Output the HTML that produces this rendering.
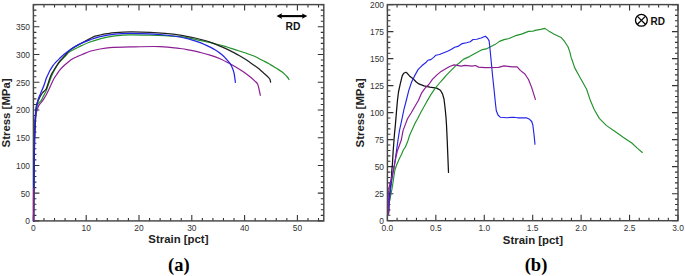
<!DOCTYPE html>
<html><head><meta charset="utf-8"><style>
html,body{margin:0;padding:0;background:#fff;width:685px;height:276px;overflow:hidden}
svg{display:block}
.tl{font-family:"Liberation Sans",sans-serif;font-size:8.4px;fill:#333}
.bl{font-family:"Liberation Sans",sans-serif;font-size:11.4px;font-weight:bold;fill:#222}
.rd{font-family:"Liberation Sans",sans-serif;font-size:9.8px;font-weight:bold;fill:#111}
.cap{font-family:"Liberation Serif",serif;font-size:18.5px;font-weight:bold;fill:#000}
</style></head><body>
<svg width="685" height="276" viewBox="0 0 685 276">
<path d="M33.4 220.9v-6M33.4 4.6v6M43.96 220.9v-3M43.96 4.6v3M54.52 220.9v-3M54.52 4.6v3M65.08 220.9v-3M65.08 4.6v3M75.64 220.9v-3M75.64 4.6v3M86.2 220.9v-6M86.2 4.6v6M96.76 220.9v-3M96.76 4.6v3M107.32 220.9v-3M107.32 4.6v3M117.88 220.9v-3M117.88 4.6v3M128.44 220.9v-3M128.44 4.6v3M139 220.9v-6M139 4.6v6M149.56 220.9v-3M149.56 4.6v3M160.12 220.9v-3M160.12 4.6v3M170.68 220.9v-3M170.68 4.6v3M181.24 220.9v-3M181.24 4.6v3M191.8 220.9v-6M191.8 4.6v6M202.36 220.9v-3M202.36 4.6v3M212.92 220.9v-3M212.92 4.6v3M223.48 220.9v-3M223.48 4.6v3M234.04 220.9v-3M234.04 4.6v3M244.6 220.9v-6M244.6 4.6v6M255.16 220.9v-3M255.16 4.6v3M265.72 220.9v-3M265.72 4.6v3M276.28 220.9v-3M276.28 4.6v3M286.84 220.9v-3M286.84 4.6v3M297.4 220.9v-6M297.4 4.6v6M307.96 220.9v-3M307.96 4.6v3M318.52 220.9v-3M318.52 4.6v3M33.4 220.9h6M323.8 220.9h-6M33.4 215.35h3M323.8 215.35h-3M33.4 209.81h3M323.8 209.81h-3M33.4 204.26h3M323.8 204.26h-3M33.4 198.72h3M323.8 198.72h-3M33.4 193.17h6M323.8 193.17h-6M33.4 187.62h3M323.8 187.62h-3M33.4 182.08h3M323.8 182.08h-3M33.4 176.53h3M323.8 176.53h-3M33.4 170.98h3M323.8 170.98h-3M33.4 165.44h6M323.8 165.44h-6M33.4 159.89h3M323.8 159.89h-3M33.4 154.35h3M323.8 154.35h-3M33.4 148.8h3M323.8 148.8h-3M33.4 143.25h3M323.8 143.25h-3M33.4 137.71h6M323.8 137.71h-6M33.4 132.16h3M323.8 132.16h-3M33.4 126.62h3M323.8 126.62h-3M33.4 121.07h3M323.8 121.07h-3M33.4 115.52h3M323.8 115.52h-3M33.4 109.98h6M323.8 109.98h-6M33.4 104.43h3M323.8 104.43h-3M33.4 98.88h3M323.8 98.88h-3M33.4 93.34h3M323.8 93.34h-3M33.4 87.79h3M323.8 87.79h-3M33.4 82.25h6M323.8 82.25h-6M33.4 76.7h3M323.8 76.7h-3M33.4 71.15h3M323.8 71.15h-3M33.4 65.61h3M323.8 65.61h-3M33.4 60.06h3M323.8 60.06h-3M33.4 54.52h6M323.8 54.52h-6M33.4 48.97h3M323.8 48.97h-3M33.4 43.42h3M323.8 43.42h-3M33.4 37.88h3M323.8 37.88h-3M33.4 32.33h3M323.8 32.33h-3M33.4 26.78h6M323.8 26.78h-6M33.4 21.24h3M323.8 21.24h-3M33.4 15.69h3M323.8 15.69h-3M33.4 10.15h3M323.8 10.15h-3M33.4 4.6h3M323.8 4.6h-3" stroke="#333" stroke-width="1.1" fill="none"/>
<rect x="33.4" y="4.6" width="290.4" height="216.3" fill="none" stroke="#474747" stroke-width="1.45"/>
<text transform="translate(33.4,230.5) scale(1,1.16)" class="tl" text-anchor="middle">0</text>
<text transform="translate(86.2,230.5) scale(1,1.16)" class="tl" text-anchor="middle">10</text>
<text transform="translate(139,230.5) scale(1,1.16)" class="tl" text-anchor="middle">20</text>
<text transform="translate(191.8,230.5) scale(1,1.16)" class="tl" text-anchor="middle">30</text>
<text transform="translate(244.6,230.5) scale(1,1.16)" class="tl" text-anchor="middle">40</text>
<text transform="translate(297.4,230.5) scale(1,1.16)" class="tl" text-anchor="middle">50</text>
<text transform="translate(30,224.4) scale(1,1.16)" class="tl" text-anchor="end">0</text>
<text transform="translate(30,196.67) scale(1,1.16)" class="tl" text-anchor="end">50</text>
<text transform="translate(30,168.94) scale(1,1.16)" class="tl" text-anchor="end">100</text>
<text transform="translate(30,141.21) scale(1,1.16)" class="tl" text-anchor="end">150</text>
<text transform="translate(30,113.48) scale(1,1.16)" class="tl" text-anchor="end">200</text>
<text transform="translate(30,85.75) scale(1,1.16)" class="tl" text-anchor="end">250</text>
<text transform="translate(30,58.02) scale(1,1.16)" class="tl" text-anchor="end">300</text>
<text transform="translate(30,30.28) scale(1,1.16)" class="tl" text-anchor="end">350</text>
<path d="M387.4 220.7v-6M387.4 4.6v6M397.09 220.7v-3M397.09 4.6v3M406.77 220.7v-3M406.77 4.6v3M416.46 220.7v-3M416.46 4.6v3M426.15 220.7v-3M426.15 4.6v3M435.83 220.7v-6M435.83 4.6v6M445.52 220.7v-3M445.52 4.6v3M455.21 220.7v-3M455.21 4.6v3M464.89 220.7v-3M464.89 4.6v3M474.58 220.7v-3M474.58 4.6v3M484.27 220.7v-6M484.27 4.6v6M493.95 220.7v-3M493.95 4.6v3M503.64 220.7v-3M503.64 4.6v3M513.33 220.7v-3M513.33 4.6v3M523.01 220.7v-3M523.01 4.6v3M532.7 220.7v-6M532.7 4.6v6M542.39 220.7v-3M542.39 4.6v3M552.07 220.7v-3M552.07 4.6v3M561.76 220.7v-3M561.76 4.6v3M571.45 220.7v-3M571.45 4.6v3M581.13 220.7v-6M581.13 4.6v6M590.82 220.7v-3M590.82 4.6v3M600.51 220.7v-3M600.51 4.6v3M610.19 220.7v-3M610.19 4.6v3M619.88 220.7v-3M619.88 4.6v3M629.57 220.7v-6M629.57 4.6v6M639.25 220.7v-3M639.25 4.6v3M648.94 220.7v-3M648.94 4.6v3M658.63 220.7v-3M658.63 4.6v3M668.31 220.7v-3M668.31 4.6v3M678 220.7v-6M678 4.6v6M387.4 220.7h6M678 220.7h-6M387.4 215.3h3M678 215.3h-3M387.4 209.89h3M678 209.89h-3M387.4 204.49h3M678 204.49h-3M387.4 199.09h3M678 199.09h-3M387.4 193.69h6M678 193.69h-6M387.4 188.28h3M678 188.28h-3M387.4 182.88h3M678 182.88h-3M387.4 177.48h3M678 177.48h-3M387.4 172.08h3M678 172.08h-3M387.4 166.67h6M678 166.67h-6M387.4 161.27h3M678 161.27h-3M387.4 155.87h3M678 155.87h-3M387.4 150.47h3M678 150.47h-3M387.4 145.06h3M678 145.06h-3M387.4 139.66h6M678 139.66h-6M387.4 134.26h3M678 134.26h-3M387.4 128.86h3M678 128.86h-3M387.4 123.45h3M678 123.45h-3M387.4 118.05h3M678 118.05h-3M387.4 112.65h6M678 112.65h-6M387.4 107.25h3M678 107.25h-3M387.4 101.84h3M678 101.84h-3M387.4 96.44h3M678 96.44h-3M387.4 91.04h3M678 91.04h-3M387.4 85.64h6M678 85.64h-6M387.4 80.23h3M678 80.23h-3M387.4 74.83h3M678 74.83h-3M387.4 69.43h3M678 69.43h-3M387.4 64.03h3M678 64.03h-3M387.4 58.62h6M678 58.62h-6M387.4 53.22h3M678 53.22h-3M387.4 47.82h3M678 47.82h-3M387.4 42.42h3M678 42.42h-3M387.4 37.01h3M678 37.01h-3M387.4 31.61h6M678 31.61h-6M387.4 26.21h3M678 26.21h-3M387.4 20.81h3M678 20.81h-3M387.4 15.41h3M678 15.41h-3M387.4 10h3M678 10h-3M387.4 4.6h6M678 4.6h-6" stroke="#333" stroke-width="1.1" fill="none"/>
<rect x="387.4" y="4.6" width="290.6" height="216.1" fill="none" stroke="#474747" stroke-width="1.45"/>
<text transform="translate(387.4,230.5) scale(1,1.16)" class="tl" text-anchor="middle">0.0</text>
<text transform="translate(435.83,230.5) scale(1,1.16)" class="tl" text-anchor="middle">0.5</text>
<text transform="translate(484.27,230.5) scale(1,1.16)" class="tl" text-anchor="middle">1.0</text>
<text transform="translate(532.7,230.5) scale(1,1.16)" class="tl" text-anchor="middle">1.5</text>
<text transform="translate(581.13,230.5) scale(1,1.16)" class="tl" text-anchor="middle">2.0</text>
<text transform="translate(629.57,230.5) scale(1,1.16)" class="tl" text-anchor="middle">2.5</text>
<text transform="translate(678,230.5) scale(1,1.16)" class="tl" text-anchor="middle">3.0</text>
<text transform="translate(384,224.2) scale(1,1.16)" class="tl" text-anchor="end">0</text>
<text transform="translate(384,197.19) scale(1,1.16)" class="tl" text-anchor="end">25</text>
<text transform="translate(384,170.17) scale(1,1.16)" class="tl" text-anchor="end">50</text>
<text transform="translate(384,143.16) scale(1,1.16)" class="tl" text-anchor="end">75</text>
<text transform="translate(384,116.15) scale(1,1.16)" class="tl" text-anchor="end">100</text>
<text transform="translate(384,89.14) scale(1,1.16)" class="tl" text-anchor="end">125</text>
<text transform="translate(384,62.12) scale(1,1.16)" class="tl" text-anchor="end">150</text>
<text transform="translate(384,35.11) scale(1,1.16)" class="tl" text-anchor="end">175</text>
<text transform="translate(384,8.1) scale(1,1.16)" class="tl" text-anchor="end">200</text>
<path d="M33.6 221C33.72 208.33 34.03 161 34.3 145C34.57 129 34.88 130.17 35.2 125C35.52 119.83 35.87 116.57 36.2 114C36.53 111.43 36.82 110.92 37.2 109.6C37.58 108.28 37.92 107.2 38.5 106.1C39.08 105 40.17 103.7 40.7 103C41.23 102.3 41.18 102.58 41.7 101.9C42.22 101.22 43.02 100.13 43.8 98.9C44.58 97.67 45.53 96.1 46.4 94.5C47.27 92.9 48.12 91.18 49 89.3C49.88 87.42 50.82 85.08 51.7 83.2C52.58 81.32 53.52 79.37 54.3 78C55.08 76.63 55.53 76.27 56.4 75C57.27 73.73 58.22 71.98 59.5 70.4C60.78 68.82 62.58 66.95 64.1 65.5C65.62 64.05 67.1 62.85 68.6 61.7C70.1 60.55 71.58 59.48 73.1 58.6C74.62 57.72 76.18 57.08 77.7 56.4C79.22 55.72 80.15 55.35 82.2 54.5C84.25 53.65 87.03 52.22 90 51.3C92.97 50.38 96.67 49.62 100 49C103.33 48.38 105 47.95 110 47.6C115 47.25 121.67 47.07 130 46.9C138.33 46.73 151.67 46.33 160 46.6C168.33 46.87 175 47.9 180 48.5C185 49.1 186.67 49.55 190 50.2C193.33 50.85 196.67 51.58 200 52.4C203.33 53.22 206.67 54.03 210 55.1C213.33 56.17 216.67 57.35 220 58.8C223.33 60.25 227.13 62.28 230 63.8C232.87 65.32 234.98 66.58 237.2 67.9C239.42 69.22 241.27 70.3 243.3 71.7C245.33 73.1 247.5 74.77 249.4 76.3C251.3 77.83 253.32 79.58 254.7 80.9C256.08 82.22 256.95 82.68 257.7 84.2C258.45 85.72 258.77 88.15 259.2 90C259.63 91.85 260.12 94.42 260.3 95.3" fill="none" stroke="#8c1e94" stroke-width="1.2" stroke-linejoin="round" stroke-linecap="round"/>
<path d="M33.6 221C33.75 207.5 34.18 157.17 34.5 140C34.82 122.83 35.17 123.17 35.5 118C35.83 112.83 36.08 111.33 36.5 109C36.92 106.67 37.42 105.2 38 104C38.58 102.8 39.47 102.37 40 101.8C40.53 101.23 40.78 101.23 41.2 100.6C41.62 99.97 41.92 99.15 42.5 98C43.08 96.85 44.05 95 44.7 93.7C45.35 92.4 45.75 91.8 46.4 90.2C47.05 88.6 47.87 86.13 48.6 84.1C49.33 82.07 50.07 79.85 50.8 78C51.53 76.15 52 75 53 73C54 71 55.63 67.92 56.8 66C57.97 64.08 58.63 63.08 60 61.5C61.37 59.92 63.33 58.15 65 56.5C66.67 54.85 67.5 53.28 70 51.6C72.5 49.92 76.67 48 80 46.4C83.33 44.8 86.67 43.27 90 42C93.33 40.73 97.17 39.6 100 38.8C102.83 38 104.5 37.7 107 37.2C109.5 36.7 111.17 36.2 115 35.8C118.83 35.4 124.17 34.92 130 34.8C135.83 34.68 144.17 34.95 150 35.1C155.83 35.25 160 35.43 165 35.7C170 35.97 175 36.1 180 36.7C185 37.3 190.83 38.5 195 39.3C199.17 40.1 201.67 40.75 205 41.5C208.33 42.25 211.67 42.98 215 43.8C218.33 44.62 221.67 45.43 225 46.4C228.33 47.37 231.67 48.53 235 49.6C238.33 50.67 241.67 51.65 245 52.8C248.33 53.95 252.28 55.33 255 56.5C257.72 57.67 259.72 58.98 261.3 59.8C262.88 60.62 263.28 60.77 264.5 61.4C265.72 62.03 267.17 62.78 268.6 63.6C270.03 64.42 271.6 65.4 273.1 66.3C274.6 67.2 276.2 68.12 277.6 69C279 69.88 280.27 70.67 281.5 71.6C282.73 72.53 284.03 73.7 285 74.6C285.97 75.5 286.63 76.18 287.3 77C287.97 77.82 288.72 79.08 289 79.5" fill="none" stroke="#22922a" stroke-width="1.2" stroke-linejoin="round" stroke-linecap="round"/>
<path d="M33.6 221C33.7 210.83 33.92 176.83 34.2 160C34.48 143.17 34.97 128.77 35.3 120C35.63 111.23 35.88 110.23 36.2 107.4C36.52 104.57 36.73 104.42 37.2 103C37.67 101.58 38.4 100.17 39 98.9C39.6 97.63 40.22 96.42 40.8 95.4C41.38 94.38 41.85 93.6 42.5 92.8C43.15 92 44.05 91.33 44.7 90.6C45.35 89.87 45.82 89.63 46.4 88.4C46.98 87.17 47.62 84.93 48.2 83.2C48.78 81.47 49.33 79.53 49.9 78C50.47 76.47 50.9 75.37 51.6 74C52.3 72.63 53.27 71.17 54.1 69.8C54.93 68.43 55.77 67.07 56.6 65.8C57.43 64.53 58.25 63.3 59.1 62.2C59.95 61.1 60.72 60.33 61.7 59.2C62.68 58.07 63.62 56.92 65 55.4C66.38 53.88 68.33 51.55 70 50.1C71.67 48.65 73.33 47.72 75 46.7C76.67 45.68 78.33 44.9 80 44C81.67 43.1 83.33 42.2 85 41.3C86.67 40.4 88.33 39.45 90 38.6C91.67 37.75 93.33 36.8 95 36.2C96.67 35.6 98 35.42 100 35C102 34.58 104.5 34.08 107 33.7C109.5 33.32 111.17 33 115 32.7C118.83 32.4 124.17 31.97 130 31.9C135.83 31.83 144.17 32.07 150 32.3C155.83 32.53 160 32.83 165 33.3C170 33.77 175 34.32 180 35.1C185 35.88 190.83 37.1 195 38C199.17 38.9 202.17 39.7 205 40.5C207.83 41.3 209.5 41.87 212 42.8C214.5 43.73 217 44.8 220 46.1C223 47.4 226.67 48.95 230 50.6C233.33 52.25 237.5 54.6 240 56C242.5 57.4 243.33 57.93 245 59C246.67 60.07 248.33 61.25 250 62.4C251.67 63.55 253.57 64.87 255 65.9C256.43 66.93 257.4 67.62 258.6 68.6C259.8 69.58 260.98 70.73 262.2 71.8C263.42 72.87 264.83 74.03 265.9 75C266.97 75.97 267.92 76.85 268.6 77.6C269.28 78.35 269.67 78.73 270 79.5C270.33 80.27 270.5 81.75 270.6 82.2" fill="none" stroke="#222" stroke-width="1.25" stroke-linejoin="round" stroke-linecap="round"/>
<path d="M33.6 221C33.62 216.67 33.63 202.67 33.7 195C33.77 187.33 33.9 182.5 34 175C34.1 167.5 34.2 156.67 34.3 150C34.4 143.33 34.48 139.67 34.6 135C34.72 130.33 34.85 125.5 35 122C35.15 118.5 35.33 116.17 35.5 114C35.67 111.83 35.78 110.53 36 109C36.22 107.47 36.45 106.37 36.8 104.8C37.15 103.23 37.6 101.2 38.1 99.6C38.6 98 39.25 96.55 39.8 95.2C40.35 93.85 40.73 93.07 41.4 91.5C42.07 89.93 42.97 88.05 43.8 85.8C44.63 83.55 45.62 80.05 46.4 78C47.18 75.95 47.83 74.9 48.5 73.5C49.17 72.1 49.65 70.92 50.4 69.6C51.15 68.28 52.08 66.83 53 65.6C53.92 64.37 54.82 63.37 55.9 62.2C56.98 61.03 58.3 59.75 59.5 58.6C60.7 57.45 61.35 56.77 63.1 55.3C64.85 53.83 67.18 51.7 70 49.8C72.82 47.9 76.67 45.57 80 43.9C83.33 42.23 86.67 41 90 39.8C93.33 38.6 95.83 37.65 100 36.7C104.17 35.75 110 34.67 115 34.1C120 33.53 124.17 33.35 130 33.3C135.83 33.25 144.17 33.52 150 33.8C155.83 34.08 160 34.47 165 35C170 35.53 175.83 36.28 180 37C184.17 37.72 187 38.5 190 39.3C193 40.1 195.5 40.9 198 41.8C200.5 42.7 202.17 43.38 205 44.7C207.83 46.02 212.17 48.03 215 49.7C217.83 51.37 220.17 53.18 222 54.7C223.83 56.22 224.73 57.45 226 58.8C227.27 60.15 228.53 61.28 229.6 62.8C230.67 64.32 231.65 66.15 232.4 67.9C233.15 69.65 233.6 70.88 234.1 73.3C234.6 75.72 235.18 80.88 235.4 82.4" fill="none" stroke="#2323e8" stroke-width="1.25" stroke-linejoin="round" stroke-linecap="round"/>
<path d="M33.5 221L33.6 188" stroke="#8c1e94" stroke-width="1.2" fill="none"/>
<polyline points="388.6,212 389.2,200 390.2,190 391.3,180 391.8,170.7 392.5,163 393.1,152 394,140 394.4,134.8 395.4,124.6 396.6,110.1 397.5,100 398.5,92 400.1,84.6 402.2,75.9 403.7,73.3 405.9,72.3 407.3,73.3 409.5,75.9 413.1,78.8 416,81.7 418.9,83.9 424,85.8 429.8,87.2 436.7,88.1 440.4,90.3 442.5,93.9 444,99 444.7,104.8 445.3,110 446,117.5 446.5,125 447.2,140 447.8,155 448.5,172.4" fill="none" stroke="#111" stroke-width="1.25" stroke-linejoin="round" stroke-linecap="round"/>
<polyline points="388.6,214 388.7,206.4 389.3,202.5 390.5,196.5 391.6,191 392.7,184.5 393.8,177 394.9,170 396.5,165.2 399.2,159 401.7,154 403.3,150 405.3,147.2 408,140.5 409.5,135.5 411.8,130.4 414.7,123.9 417.6,118.8 420.5,113 424.1,106.5 426.6,101.9 430.9,94.6 435.3,88.1 439.6,83 444,78 446.7,74.8 451.1,70.4 455.4,66.1 459.8,62.5 463.7,59.1 469.5,56.6 475.3,53.3 479.6,51.1 482.5,49.6 486.2,48.9 490.5,46.7 494.9,44.6 499.5,41.4 504,39.6 509.1,38.5 514.9,35.9 522.2,33.9 528.5,31.4 533,31.2 535,30.4 540.8,29.4 544.9,28.4 549.5,31.6 553.8,34.1 561.1,37.4 564.7,41.7 568,46.8 569.8,51.9 571.2,57.7 572.1,60 574.6,67.6 580.2,77.8 586.6,89.2 590.4,100.6 594.2,109.5 599.3,118.4 606.5,125.6 614.7,131.3 622.8,137 631.8,143 637.5,148.4 642.3,152.5" fill="none" stroke="#22922a" stroke-width="1.15" stroke-linejoin="round" stroke-linecap="round"/>
<polyline points="388.5,214 389.3,200 390.5,189 391.6,181.3 393,172.5 394,167.5 395.4,158.8 396.6,150.1 398,140 399.5,130.4 401.7,120.3 403.8,110.1 406.4,100 408.8,90.4 411.7,81.7 414.6,75.9 418.2,69.4 421.8,65.8 426.2,62.2 427.9,60.3 430.8,59.6 433.7,57.4 435.9,55.2 439.5,54.5 443.8,52.8 447.5,51.3 451.1,49.4 454.7,47.2 457.9,46.4 462.2,43.6 466.6,42.7 470.2,41.7 473.1,39.5 476.7,39.2 481.1,38 485.4,36.3 487.6,38.3 489.1,40.9 489.8,46.7 490.5,54 491.2,61.2 492.5,75 494.1,90 495.4,103 496.3,110.7 498,115 500.2,117.2 506.7,117.8 513.3,117.2 517.6,117.8 526.3,117.8 529.6,119.3 531.7,121.5 532.8,124.8 533.9,133.5 535,144.3" fill="none" stroke="#2323e8" stroke-width="1.15" stroke-linejoin="round" stroke-linecap="round"/>
<polyline points="388.5,214 388.3,200 388.4,194.3 388.9,188.9 390,183.4 391.5,178 392.5,174 393.5,169.6 394.5,164.5 395.8,157.6 397.3,151 398.8,147 401.3,140 403.1,130.4 405.3,124.6 407.5,118.8 411.1,113 415,106.3 418.5,100.2 421.5,93.2 425.1,88.1 428.8,84.5 432.4,79.4 436.7,75.1 441.1,71.4 445.3,69 449.6,66.5 454,64.9 456.9,65.4 461.2,66.1 465,65.4 472.1,66.2 475.4,65.5 478.6,67.1 485,67.7 498.6,67.3 504,65.9 512.2,66.8 517.2,66.8 520.3,70.4 524.9,74 528.5,79.5 531.7,87.6 535.4,99.4" fill="none" stroke="#8c1e94" stroke-width="1.2" stroke-linejoin="round" stroke-linecap="round"/>
<path d="M280 16.1H304" stroke="#000" stroke-width="2.1"/>
<path d="M276.5 16.1L282 13.3L281.2 16.1L282 18.9Z M307.4 16.1L302 13.4L302.8 16.1L302 18.8Z" fill="#000"/>
<text transform="translate(292.9,29.9) scale(1,1.06)" class="rd" style="font-size:10.3px" text-anchor="middle">RD</text>
<circle cx="641.4" cy="20.3" r="5.9" fill="none" stroke="#000" stroke-width="1.3"/>
<path d="M637.2 16.1L645.6 24.5M645.6 16.1L637.2 24.5" stroke="#000" stroke-width="1.2"/>
<text transform="translate(650.6,24.8) scale(1,1.1)" class="rd" style="font-size:10px">RD</text>
<text x="178.4" y="243.3" class="bl" text-anchor="middle">Strain [pct]</text>
<text x="532.9" y="243.6" class="bl" text-anchor="middle">Strain [pct]</text>
<text transform="translate(9.9,112.9) rotate(-90)" class="bl" text-anchor="middle">Stress [MPa]</text>
<text transform="translate(363.6,112.9) rotate(-90)" class="bl" text-anchor="middle">Stress [MPa]</text>
<text x="178.8" y="271" class="cap" text-anchor="middle">(a)</text>
<text x="536" y="271" class="cap" text-anchor="middle">(b)</text>
</svg>
</body></html>
